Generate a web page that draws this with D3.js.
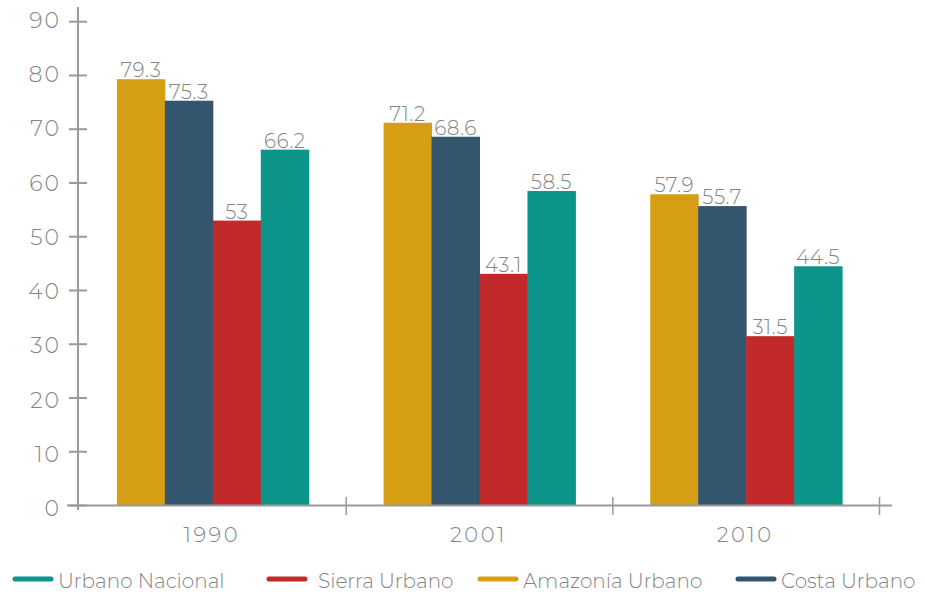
<!DOCTYPE html>
<html>
<head>
<meta charset="utf-8">
<script src="https://cdn.jsdelivr.net/npm/d3@7/dist/d3.min.js"></script>
<style>
  body { margin: 0; background: #fff; }
  text { font-family: "Montserrat", "Noto Sans", sans-serif; font-weight: 300; fill: #848486; }
</style>
</head>
<body>
<svg id="chart" width="925" height="594"></svg>
<script>
// data
var years = ["1990", "2001", "2010"];
var series = ["Amazonía Urbano", "Costa Urbano", "Sierra Urbano", "Urbano Nacional"];
var amazonia = [79.3, 71.2, 57.9];
var costa = [75.3, 68.6, 55.7];
var sierra = [53, 43.1, 31.5];
var nacional = [66.2, 58.5, 44.5];
var yTicks = [0, 10, 20, 30, 40, 50, 60, 70, 80, 90];
var legendOrder = ["Urbano Nacional", "Sierra Urbano", "Amazonía Urbano", "Costa Urbano"];

var colors = {
    "Amazonía Urbano": "#d59e15",
    "Costa Urbano": "#34566d",
    "Sierra Urbano": "#c2292b",
    "Urbano Nacional": "#0d948b"
};
var axisColor = "#9a9a9e";

var values = {
    "Amazonía Urbano": amazonia,
    "Costa Urbano": costa,
    "Sierra Urbano": sierra,
    "Urbano Nacional": nacional
};

var svg = d3.select("#chart");

var x0 = d3.scaleBand()
    .domain(years)
    .range([79.5, 879.5])
    .paddingInner(0);

var x1 = d3.scaleBand()
    .domain(series)
    .range([0, x0.bandwidth()])
    .paddingOuter(0.78)
    .paddingInner(0);

var y = d3.scaleLinear()
    .domain([0, 90])
    .range([505.5, 21.7]);

// bars
var groups = svg.append("g").selectAll("g")
    .data(years)
    .enter().append("g")
    .attr("transform", function(d) { return "translate(" + x0(d) + ",0)"; });

groups.selectAll("rect")
    .data(function(d, i) {
        return series.map(function(s) { return {key: s, value: values[s][i]}; });
    })
    .enter().append("rect")
    .attr("x", function(d) { return x1(d.key); })
    .attr("width", x1.bandwidth() + 0.5)
    .attr("y", function(d) { return y(d.value); })
    .attr("height", function(d) { return y(0) - y(d.value); })
    .attr("fill", function(d) { return colors[d.key]; });

groups.selectAll("text")
    .data(function(d, i) {
        return series.map(function(s) { return {key: s, value: values[s][i]}; });
    })
    .enter().append("text")
    .attr("x", function(d) { return x1(d.key) + x1.bandwidth() / 2; })
    .attr("y", function(d) { return y(d.value) - 2; })
    .attr("text-anchor", "middle")
    .style("font-size", "20px")
    .style("letter-spacing", "0.5px")
    .text(function(d) { return d.value; });

// y axis
var yAxis = svg.append("g");
yAxis.append("line")
    .attr("x1", 78).attr("x2", 78)
    .attr("y1", 7).attr("y2", y(0))
    .attr("stroke", axisColor).attr("stroke-width", 2);

yAxis.selectAll(".tick")
    .data(yTicks)
    .enter().append("line")
    .attr("x1", 69).attr("x2", 87)
    .attr("y1", function(d) { return y(d); })
    .attr("y2", function(d) { return y(d); })
    .attr("stroke", axisColor).attr("stroke-width", 2);

yAxis.selectAll("text")
    .data(yTicks)
    .enter().append("text")
    .attr("x", 61)
    .attr("y", function(d) { return y(d) + 8.5 - (d - 45) * 0.05; })
    .attr("text-anchor", "end")
    .style("font-size", "22px")
    .style("letter-spacing", "2px")
    .text(function(d) { return d; });

// x axis
var xAxis = svg.append("g");
xAxis.append("line")
    .attr("x1", 67).attr("x2", 892)
    .attr("y1", y(0)).attr("y2", y(0))
    .attr("stroke", axisColor).attr("stroke-width", 2);

xAxis.selectAll(".tick")
    .data(years.slice(1).concat(["end"]))
    .enter().append("line")
    .attr("x1", function(d) { return d == "end" ? x0.range()[1] : x0(d); })
    .attr("x2", function(d) { return d == "end" ? x0.range()[1] : x0(d); })
    .attr("y1", 497).attr("y2", 515)
    .attr("stroke", axisColor).attr("stroke-width", 1.5);

xAxis.append("line")
    .attr("x1", 78).attr("x2", 78)
    .attr("y1", y(0)).attr("y2", 510)
    .attr("stroke", axisColor).attr("stroke-width", 2);

xAxis.selectAll("text")
    .data(years)
    .enter().append("text")
    .attr("x", function(d) { return x0(d) + x0.bandwidth() / 2 - 1; })
    .attr("y", 542)
    .attr("text-anchor", "middle")
    .style("font-size", "21px")
    .style("letter-spacing", "2.5px")
    .text(function(d) { return d; });

// legend
var legendX = [13, 267, 478, 736];
var legend = svg.append("g").selectAll("g")
    .data(legendOrder)
    .enter().append("g")
    .attr("transform", function(d, i) { return "translate(" + legendX[i] + ",579)"; });

legend.append("line")
    .attr("x1", 2).attr("x2", 38)
    .attr("y1", 0).attr("y2", 0)
    .attr("stroke", function(d) { return colors[d]; })
    .attr("stroke-width", 5)
    .attr("stroke-linecap", "round");

legend.append("text")
    .attr("x", function(d, i) { return i == 1 ? 51 : 45; })
    .attr("y", 9)
    .style("font-size", "20px")
    .text(function(d) { return d; });
</script>
</body>
</html>
